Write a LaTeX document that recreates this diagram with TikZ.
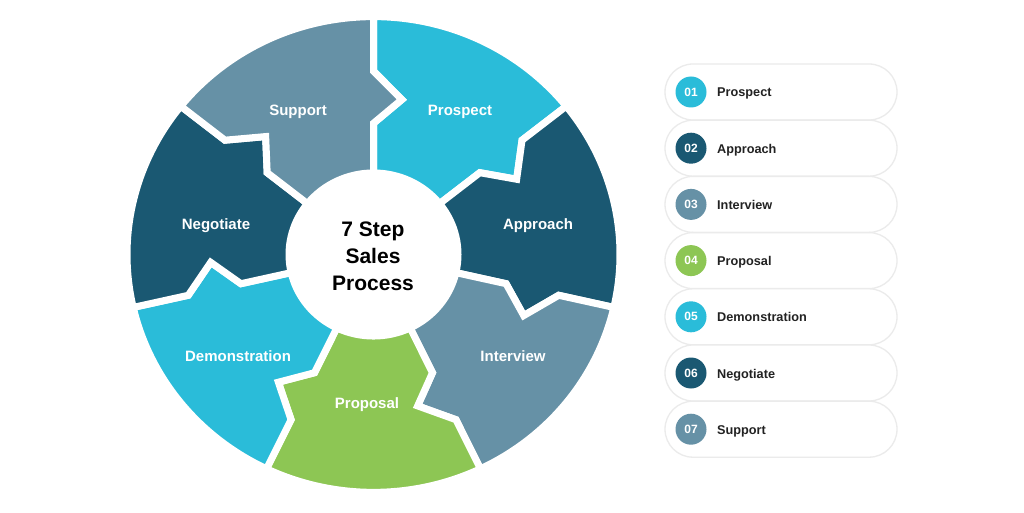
\documentclass[tikz,border=0pt]{standalone}
\usepackage{fontspec}
\setmainfont{Liberation Sans}
\definecolor{ccyan}{RGB}{42,188,217}
\definecolor{cdark}{RGB}{26,88,114}
\definecolor{cgray}{RGB}{102,145,166}
\definecolor{cgreen}{RGB}{141,198,84}
\definecolor{ctext}{RGB}{34,34,34}
\tikzset{
  segstyle/.style={draw=white, line width=7pt, line join=miter},
  seglabel/.style={text=white, font=\fontsize{15}{18}\selectfont\bfseries, inner sep=0pt},
  pill/.style={draw=black!8, line width=1.3pt, fill=white, rounded corners=28pt},
  numdot/.style={circle, minimum size=31pt, inner sep=0pt, text=white, font=\fontsize{12}{14}\selectfont\bfseries},
  listlabel/.style={anchor=base west, text=ctext, font=\fontsize{12.7}{15}\selectfont\bfseries, inner sep=0pt}
}
\newcommand{\ringseg}[2]{%
  \pgfmathsetmacro{\segA}{90-#1*360/7}%
  \pgfmathsetmacro{\segB}{90-(#1+1)*360/7}%
  \pgfmathsetmacro{\segAt}{\segA-10}%
  \pgfmathsetmacro{\segBt}{\segB-10}%
  \path[segstyle, fill=#2] (\segA:84.5) -- (\segA:136) -- (\segAt:163) -- (\segA:190) -- (\segA:246.5)
    arc[start angle=\segA, end angle=\segB, radius=246.5]
    -- (\segB:190) -- (\segBt:163) -- (\segB:136) -- (\segB:84.5)
    arc[start angle=\segB, end angle=\segA, radius=84.5] -- cycle;}
\begin{document}
\begin{tikzpicture}[x=1pt,y=1pt]
\useasboundingbox[fill=white] (0,0) rectangle (1024,512);
% ring
\begin{scope}[shift={(373.5,257.5)}, yscale=0.965]
  \ringseg{0}{ccyan}
  \ringseg{1}{cdark}
  \ringseg{2}{cgray}
  \ringseg{3}{cgreen}
  \ringseg{4}{ccyan}
  \ringseg{5}{cdark}
  \ringseg{6}{cgray}
\end{scope}
% segment labels
\node[seglabel] (sprospect) at (460,400) {Prospect};
\node[seglabel] (sapproach) at (538,286) {Approach};
\node[seglabel] (sinterview) at (513,156) {Interview};
\node[seglabel] (sproposal) at (367,107) {Proposal};
\node[seglabel] (sdemo) at (238,156) {Demonstration};
\node[seglabel] (snegotiate) at (216,286) {Negotiate};
\node[seglabel] (ssupport) at (298,400) {Support};
% center
\node[align=center, font=\fontsize{21}{27}\selectfont\bfseries, text=black, inner sep=0pt] (center) at (373,256) {7 Step\\Sales\\Process};
% list
\foreach \i/\num/\lab/\col in {0/01/Prospect/ccyan, 1/02/Approach/cdark, 2/03/Interview/cgray, 3/04/Proposal/cgreen, 4/05/Demonstration/ccyan, 5/06/Negotiate/cdark, 6/07/Support/cgray}{
  \pgfmathsetmacro{\yc}{420-56.2*\i}
  \draw[pill] (665,\yc-28) rectangle (897,\yc+28);
  \node[numdot, fill=\col] (num\i) at (691,\yc) {\num};
  \node[listlabel] (lab\i) at (717,\yc-5) {\lab};
}
\end{tikzpicture}
\end{document}
